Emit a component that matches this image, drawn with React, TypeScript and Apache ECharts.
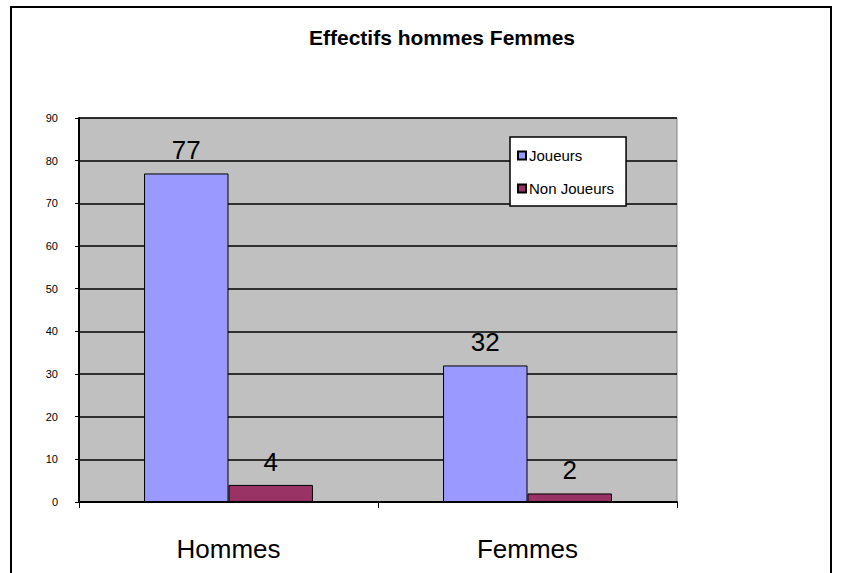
import React, { useEffect, useRef } from "react";
import * as echarts from "echarts";

const categories = ["Hommes", "Femmes"];
const joueurs = [77, 32];
const nonJoueurs = [4, 2];
const seriesNames = ["Joueurs", "Non Joueurs"];
const titleText = "Effectifs hommes Femmes";

export default function App() {
  const ref = useRef<HTMLDivElement>(null);
  useEffect(() => {
    const chart = echarts.init(ref.current!, null, { renderer: "svg" });
    const font = "Liberation Sans, Arial, sans-serif";
    chart.setOption({
      animation: false,
      backgroundColor: "#ffffff",
      textStyle: { fontFamily: font },
      title: {
        text: titleText,
        left: 437,
        textAlign: "center",
        top: 22,
        textStyle: { fontSize: 21, fontWeight: "bold", color: "#000", fontFamily: font },
      },
      graphic: [
        {
          type: "rect",
          shape: { x: 11, y: 7, width: 820, height: 600 },
          style: { fill: "none", stroke: "#000", lineWidth: 2 },
          silent: true,
          z: 100,
        },
      ],
      legend: {
        orient: "vertical",
        left: 510,
        top: 137,
        backgroundColor: "#ffffff",
        borderColor: "#000",
        borderWidth: 1.5,
        padding: [11, 12, 10, 7],
        itemWidth: 8,
        itemHeight: 8,
        itemGap: 18,
        icon: "rect",
        textStyle: { fontSize: 15, color: "#000", fontFamily: font, padding: [0, 0, 0, -2] },
        data: seriesNames,
      },
      grid: {
        left: 79,
        right: 166,
        top: 118,
        bottom: 71,
        show: true,
        backgroundColor: "#C0C0C0",
        borderColor: "#808080",
        borderWidth: 1,
      },
      xAxis: {
        type: "category",
        data: categories,
        axisLine: { show: true, lineStyle: { color: "#000", width: 2 } },
        axisTick: { show: true, interval: 0, length: 6, lineStyle: { color: "#000", width: 1 } },
        axisLabel: { fontSize: 26, color: "#000", margin: 34, fontFamily: font },
      },
      yAxis: {
        type: "value",
        min: 0,
        max: 90,
        interval: 10,
        axisLine: { show: true, lineStyle: { color: "#000", width: 2 } },
        axisTick: { show: true, length: 4, lineStyle: { color: "#000" } },
        axisLabel: { fontSize: 11, color: "#000", margin: 21, fontFamily: font },
        splitLine: { show: true, lineStyle: { color: "#000", width: 1.5 } },
      },
      series: [
        {
          name: seriesNames[0],
          type: "bar",
          data: joueurs,
          barGap: "0%",
          barCategoryGap: "43.5%",
          itemStyle: { color: "#9999FF", borderColor: "#000", borderWidth: 1 },
          label: { show: true, position: "top", distance: 10, fontSize: 26, color: "#000", fontFamily: font },
        },
        {
          name: seriesNames[1],
          type: "bar",
          data: nonJoueurs,
          barGap: "0%",
          barCategoryGap: "43.5%",
          itemStyle: { color: "#993366", borderColor: "#000", borderWidth: 1 },
          label: { show: true, position: "top", distance: 10, fontSize: 26, color: "#000", fontFamily: font },
        },
      ],
    });
    return () => chart.dispose();
  }, []);
  return <div ref={ref} style={{ position: "fixed", left: 0, top: 0, width: 843, height: 573 }} />;
}
